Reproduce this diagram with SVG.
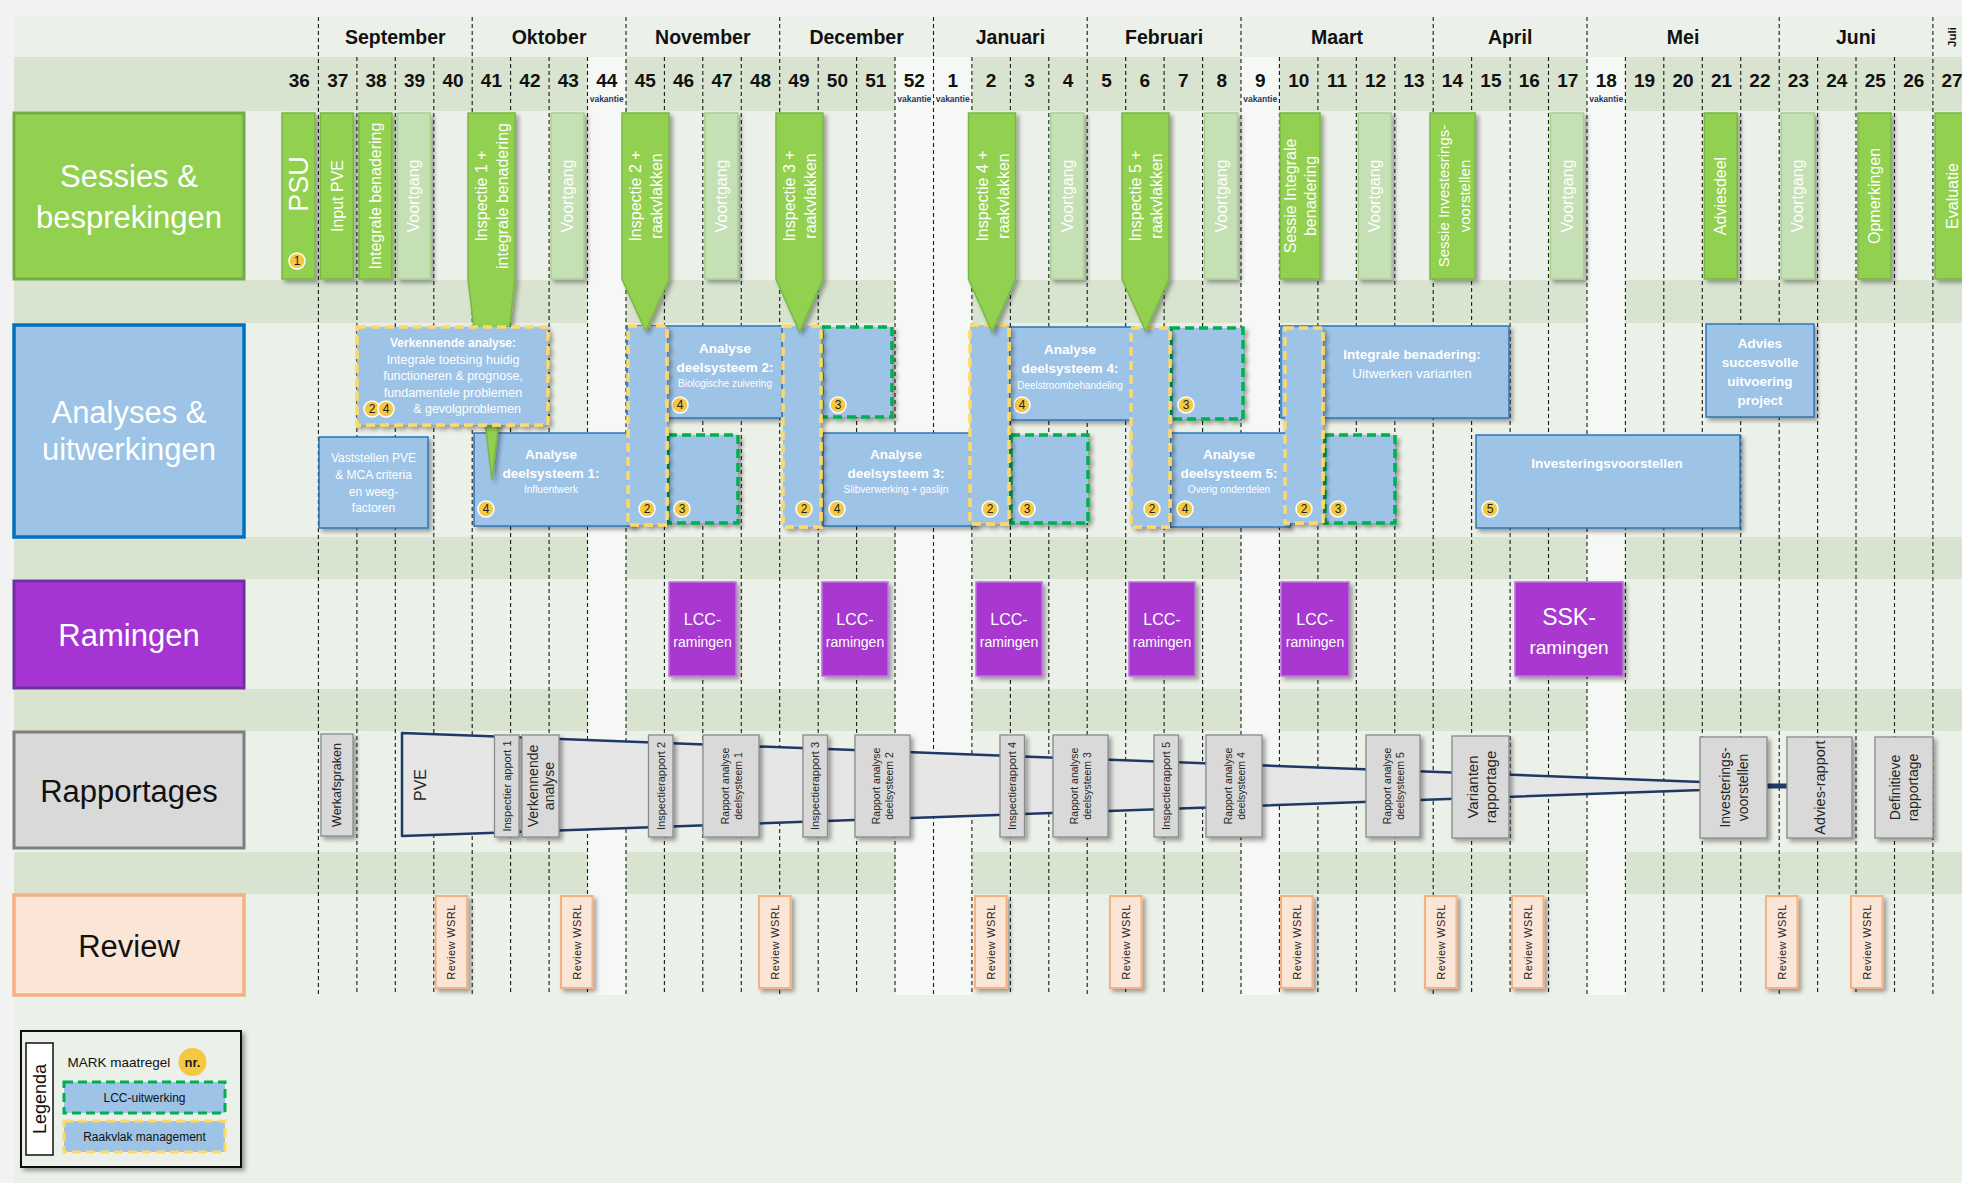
<svg xmlns="http://www.w3.org/2000/svg" width="1962" height="1183" viewBox="0 0 1962 1183">
<style>
text{font-family:"Liberation Sans",Arial,sans-serif}
.band{fill:#d8e4cf}.vak{fill:#f6f8f5}
.wl{stroke:#1a1a1a;stroke-width:1.1;stroke-dasharray:4 3;fill:none}
.mo{font-size:19.5px;font-weight:bold;fill:#111;text-anchor:middle}
.wk{font-size:19px;font-weight:bold;fill:#111;text-anchor:middle}
.vk{font-size:8.5px;font-weight:bold;fill:#1f3864;text-anchor:middle}
.hdr{font-size:31px;text-anchor:middle}
.shd{filter:url(#sh)}
.sd{fill:#92d050;stroke:#79b744;stroke-width:1.5}
.sl{fill:#c5e0b4;stroke:#a9d18e;stroke-width:1.5}
.st{fill:#fff;font-size:16px;text-anchor:middle;dominant-baseline:central}
.ab{fill:#9dc3e6;stroke:#2e75b6;stroke-width:1.5}
.rv{fill:#9dc3e6;stroke:#ffd966;stroke-width:3.5;stroke-dasharray:9 5}
.lcc{fill:#9dc3e6;stroke:#00b050;stroke-width:3.5;stroke-dasharray:9 5}
.ah{fill:#fff;font-size:13.5px;font-weight:bold;text-anchor:middle;dominant-baseline:central}
.as{fill:#fff;font-size:10px;text-anchor:middle;dominant-baseline:central}
.ar{fill:#fff;font-size:12.5px;text-anchor:middle;dominant-baseline:central}
.bd circle{fill:#f5c842;stroke:#fff;stroke-width:1.5}
.bd text{font-size:12px;fill:#222;text-anchor:middle;dominant-baseline:central}
.ram{fill:#a838d0;stroke:#bd72dc;stroke-width:1.5}
.rt{fill:#fff;font-size:16px;text-anchor:middle;dominant-baseline:central}
.rt2{fill:#fff;font-size:14px;text-anchor:middle;dominant-baseline:central}
.rep{fill:#d9d9d9;stroke:#8a8a8a;stroke-width:1.3}
.rpt{fill:#262626;text-anchor:middle;dominant-baseline:central}
.rev{fill:#fbe5d6;stroke:#f4b183;stroke-width:2}
.rvt{fill:#262626;font-size:11px;letter-spacing:0.4px;text-anchor:middle;dominant-baseline:central}
</style>
<defs>
<filter id="sh" x="-30%" y="-30%" width="170%" height="170%"><feDropShadow dx="3" dy="3" stdDeviation="2" flood-color="#000" flood-opacity="0.35"/></filter>
</defs>

<g id="background">
<rect width="1962" height="1183" fill="#f2f2f2"/>
<rect x="14" y="17" width="1948" height="1166" fill="#ebf0e8"/>
<rect class="band" x="14" y="57" width="1948" height="54"/>
<rect class="band" x="14" y="280" width="1948" height="43"/>
<rect class="band" x="14" y="537" width="1948" height="42"/>
<rect class="band" x="14" y="689" width="1948" height="42"/>
<rect class="band" x="14" y="852" width="1948" height="42"/>
<rect class="vak" x="587.5" y="57" width="38.5" height="938"/>
<rect class="vak" x="895" y="57" width="76.9" height="938"/>
<rect class="vak" x="1241" y="57" width="38.4" height="938"/>
<rect class="vak" x="1587" y="57" width="38.4" height="938"/>
<path class="wl" d="M356.9 57V995M395.3 57V995M433.8 57V995M510.6 57V995M549.1 57V995M587.5 57V995M664.4 57V995M702.8 57V995M741.3 57V995M818.2 57V995M856.6 57V995M895 57V995M971.9 57V995M1010.4 57V995M1048.8 57V995M1125.7 57V995M1164.1 57V995M1202.6 57V995M1279.4 57V995M1317.9 57V995M1356.3 57V995M1394.8 57V995M1471.6 57V995M1510.1 57V995M1548.5 57V995M1625.4 57V995M1663.8 57V995M1702.3 57V995M1740.7 57V995M1817.6 57V995M1856 57V995M1894.5 57V995"/>
<path class="wl" d="M318.4 17V995M472.2 17V995M626 17V995M779.7 17V995M933.5 17V995M1087.2 17V995M1241 17V995M1433.2 17V995M1587 17V995M1779.2 17V995M1932.9 17V995"/>
</g>

<g id="months">
<text class="mo" x="395.3" y="44">September</text>
<text class="mo" x="549.1" y="44">Oktober</text>
<text class="mo" x="702.8" y="44">November</text>
<text class="mo" x="856.6" y="44">December</text>
<text class="mo" x="1010.4" y="44">Januari</text>
<text class="mo" x="1164.1" y="44">Februari</text>
<text class="mo" x="1337.1" y="44">Maart</text>
<text class="mo" x="1510.1" y="44">April</text>
<text class="mo" x="1683.1" y="44">Mei</text>
<text class="mo" x="1856" y="44">Juni</text>
<text transform="translate(1952,37) rotate(-90)" font-size="11.5" font-weight="bold" fill="#111" text-anchor="middle" dominant-baseline="central">Juli</text>
</g>

<g id="weeks">
<text class="wk" x="299.2" y="87">36</text><text class="wk" x="337.7" y="87">37</text><text class="wk" x="376.1" y="87">38</text><text class="wk" x="414.5" y="87">39</text><text class="wk" x="453" y="87">40</text><text class="wk" x="491.4" y="87">41</text><text class="wk" x="529.9" y="87">42</text><text class="wk" x="568.3" y="87">43</text><text class="wk" x="606.7" y="87">44</text><text class="wk" x="645.2" y="87">45</text><text class="wk" x="683.6" y="87">46</text><text class="wk" x="722.1" y="87">47</text><text class="wk" x="760.5" y="87">48</text><text class="wk" x="798.9" y="87">49</text><text class="wk" x="837.4" y="87">50</text><text class="wk" x="875.8" y="87">51</text><text class="wk" x="914.3" y="87">52</text><text class="wk" x="952.7" y="87">1</text><text class="wk" x="991.1" y="87">2</text><text class="wk" x="1029.6" y="87">3</text><text class="wk" x="1068" y="87">4</text><text class="wk" x="1106.5" y="87">5</text><text class="wk" x="1144.9" y="87">6</text><text class="wk" x="1183.3" y="87">7</text><text class="wk" x="1221.8" y="87">8</text><text class="wk" x="1260.2" y="87">9</text><text class="wk" x="1298.7" y="87">10</text><text class="wk" x="1337.1" y="87">11</text><text class="wk" x="1375.5" y="87">12</text><text class="wk" x="1414" y="87">13</text><text class="wk" x="1452.4" y="87">14</text><text class="wk" x="1490.9" y="87">15</text><text class="wk" x="1529.3" y="87">16</text><text class="wk" x="1567.7" y="87">17</text><text class="wk" x="1606.2" y="87">18</text><text class="wk" x="1644.6" y="87">19</text><text class="wk" x="1683.1" y="87">20</text><text class="wk" x="1721.5" y="87">21</text><text class="wk" x="1759.9" y="87">22</text><text class="wk" x="1798.4" y="87">23</text><text class="wk" x="1836.8" y="87">24</text><text class="wk" x="1875.3" y="87">25</text><text class="wk" x="1913.7" y="87">26</text><text class="wk" x="1952.1" y="87">27</text>
<text class="vk" x="606.7" y="102">vakantie</text>
<text class="vk" x="914.3" y="102">vakantie</text>
<text class="vk" x="952.7" y="102">vakantie</text>
<text class="vk" x="1260.2" y="102">vakantie</text>
<text class="vk" x="1606.2" y="102">vakantie</text>
</g>

<g id="lane-headers">
<g id="hdr-sessies"><rect x="14" y="113" width="230" height="166" fill="#92d050" stroke="#70ad47" stroke-width="3"/><text class="hdr" x="129" y="187" fill="#fff">Sessies &amp;</text><text class="hdr" x="129" y="228" fill="#fff">besprekingen</text></g>
<g id="hdr-analyses"><rect x="14" y="325" width="230" height="212" fill="#9dc3e6" stroke="#0070c0" stroke-width="3.5"/><text class="hdr" x="129" y="423" fill="#fff">Analyses &amp;</text><text class="hdr" x="129" y="460" fill="#fff">uitwerkingen</text></g>
<g id="hdr-ramingen"><rect x="14" y="581" width="230" height="107" fill="#a435d2" stroke="#7030a0" stroke-width="3"/><text class="hdr" x="129" y="646" fill="#fff">Ramingen</text></g>
<g id="hdr-rapportages"><rect x="14" y="732" width="230" height="116" fill="#d9d9d9" stroke="#7f7f7f" stroke-width="3"/><text class="hdr" x="129" y="802" fill="#111">Rapportages</text></g>
<g id="hdr-review"><rect x="14" y="895" width="230" height="100" fill="#fbe5d6" stroke="#f4b183" stroke-width="3.5"/><text class="hdr" x="129" y="957" fill="#111">Review</text></g>
</g>

<g id="analyses">
<g id="a-vaststellen"><rect class="ab shd" x="319" y="437" width="109" height="91"/><text class="ar" x="373.5" y="458" style="font-size:12px">Vaststellen PVE</text><text class="ar" x="373.5" y="475" style="font-size:12px">&amp; MCA criteria</text><text class="ar" x="373.5" y="492" style="font-size:12px">en weeg-</text><text class="ar" x="373.5" y="508" style="font-size:12px">factoren</text></g>
<g id="a-ds1"><rect class="ab shd" x="474" y="433" width="160" height="93"/><text class="ah" x="551" y="454">Analyse</text><text class="ah" x="551" y="473">deelsysteem 1:</text><text class="as" x="551" y="489">Influentwerk</text><g class="bd"><circle cx="486" cy="509" r="8"/><text x="486" y="509">4</text></g></g>
<g id="a-ds2"><rect class="ab shd" x="627" y="326" width="155" height="92"/><text class="ah" x="725" y="348">Analyse</text><text class="ah" x="725" y="367">deelsysteem 2:</text><text class="as" x="725" y="383">Biologische zuivering</text><g class="bd"><circle cx="680" cy="405" r="8"/><text x="680" y="405">4</text></g></g>
<g id="a-ds3"><rect class="ab shd" x="823" y="433" width="152" height="93"/><text class="ah" x="896" y="454">Analyse</text><text class="ah" x="896" y="473">deelsysteem 3:</text><text class="as" x="896" y="489">Slibverwerking + gaslijn</text><g class="bd"><circle cx="837" cy="509" r="8"/><text x="837" y="509">4</text></g></g>
<g id="a-ds4"><rect class="ab shd" x="1009" y="327" width="125" height="93"/><text class="ah" x="1070" y="349">Analyse</text><text class="ah" x="1070" y="368">deelsysteem 4:</text><text class="as" x="1070" y="385">Deelstroombehandeling</text><g class="bd"><circle cx="1022" cy="405" r="8"/><text x="1022" y="405">4</text></g></g>
<g id="a-ds5"><rect class="ab shd" x="1170" y="433" width="120" height="94"/><text class="ah" x="1229" y="454">Analyse</text><text class="ah" x="1229" y="473">deelsysteem 5:</text><text class="as" x="1229" y="489">Overig onderdelen</text><g class="bd"><circle cx="1185" cy="509" r="8"/><text x="1185" y="509">4</text></g></g>
<g id="a-integraal"><rect class="ab shd" x="1281" y="326" width="228" height="92"/><text class="ah" x="1412" y="354">Integrale benadering:</text><text class="ar" x="1412" y="373" style="font-size:13.5px">Uitwerken varianten</text></g>
<g id="a-investering"><rect class="ab shd" x="1476" y="435" width="264" height="93"/><text class="ah" x="1607" y="463">Investeringsvoorstellen</text><g class="bd"><circle cx="1490" cy="509" r="8"/><text x="1490" y="509">5</text></g></g>
<g id="a-advies"><rect class="ab shd" x="1706" y="324" width="108" height="93"/><text class="ah" x="1760" y="343">Advies</text><text class="ah" x="1760" y="362">succesvolle</text><text class="ah" x="1760" y="381">uitvoering</text><text class="ah" x="1760" y="400">project</text></g>
<g id="lcc1"><rect class="lcc shd" x="668" y="435" width="70" height="88"/><g class="bd"><circle cx="682" cy="509" r="8"/><text x="682" y="509">3</text></g></g>
<g id="lcc2"><rect class="lcc shd" x="822" y="327" width="70" height="90"/><g class="bd"><circle cx="838" cy="405" r="8"/><text x="838" y="405">3</text></g></g>
<g id="lcc3"><rect class="lcc shd" x="1011" y="435" width="77" height="88"/><g class="bd"><circle cx="1027" cy="509" r="8"/><text x="1027" y="509">3</text></g></g>
<g id="lcc4"><rect class="lcc shd" x="1171" y="328" width="72" height="91"/><g class="bd"><circle cx="1186" cy="405" r="8"/><text x="1186" y="405">3</text></g></g>
<g id="lcc5"><rect class="lcc shd" x="1325" y="435" width="70" height="88"/><g class="bd"><circle cx="1338" cy="509" r="8"/><text x="1338" y="509">3</text></g></g>
<g id="rv1"><rect class="rv shd" x="628" y="326" width="39" height="199"/><g class="bd"><circle cx="647" cy="509" r="8"/><text x="647" y="509">2</text></g></g>
<g id="rv2"><rect class="rv shd" x="783" y="326" width="38" height="201"/><g class="bd"><circle cx="804" cy="509" r="8"/><text x="804" y="509">2</text></g></g>
<g id="rv3"><rect class="rv shd" x="970" y="325" width="39" height="199"/><g class="bd"><circle cx="990" cy="509" r="8"/><text x="990" y="509">2</text></g></g>
<g id="rv4"><rect class="rv shd" x="1131" y="328" width="39" height="199"/><g class="bd"><circle cx="1152" cy="509" r="8"/><text x="1152" y="509">2</text></g></g>
<g id="rv5"><rect class="rv shd" x="1285" y="328" width="38" height="195"/><g class="bd"><circle cx="1304" cy="509" r="8"/><text x="1304" y="509">2</text></g></g>
</g>

<g id="sessies">
<g id="s-psu"><rect class="sd shd" x="282" y="113" width="33" height="166"/><text transform="translate(299,184) rotate(-90)" class="st" style="font-size:27px">PSU</text><g class="bd"><circle cx="297" cy="261" r="8"/><text x="297" y="261">1</text></g></g>
<g id="s-inputpve"><rect class="sd shd" x="320.4" y="113" width="33" height="166"/><text transform="translate(337,196) rotate(-90)" class="st">Input PVE</text></g>
<g id="s-integraal1"><rect class="sd shd" x="358.9" y="113" width="33" height="166"/><text transform="translate(375.4,196) rotate(-90)" class="st">Integrale benadering</text></g>
<g id="s-voortgang39"><rect class="sl shd" x="397.3" y="113" width="33" height="166"/><text transform="translate(413.8,196) rotate(-90)" class="st">Voortgang</text></g>
<g id="s-inspectie1"><path class="sd shd" d="M468 113H515V279L492 480L468 279Z"/><text transform="translate(491.5,196) rotate(-90)" class="st"><tspan x="0" y="-10.5">Inspectie 1 +</tspan><tspan x="0" y="10.5">integrale benadering</tspan></text></g>
<g id="s-voortgang43"><rect class="sl shd" x="551" y="113" width="33" height="166"/><text transform="translate(567.5,196) rotate(-90)" class="st">Voortgang</text></g>
<g id="s-inspectie2"><path class="sd shd" d="M622 113H669V279L645.5 331L622 279Z"/><text transform="translate(645.5,196) rotate(-90)" class="st"><tspan x="0" y="-10.5">Inspectie 2 +</tspan><tspan x="0" y="10.5">raakvlakken</tspan></text></g>
<g id="s-voortgang47"><rect class="sl shd" x="704.8" y="113" width="33" height="166"/><text transform="translate(721.3,196) rotate(-90)" class="st">Voortgang</text></g>
<g id="s-inspectie3"><path class="sd shd" d="M776 113H823V279L799.5 332L776 279Z"/><text transform="translate(799.5,196) rotate(-90)" class="st"><tspan x="0" y="-10.5">Inspectie 3 +</tspan><tspan x="0" y="10.5">raakvlakken</tspan></text></g>
<g id="s-inspectie4"><path class="sd shd" d="M968.5 113H1015.5V279L992 332L968.5 279Z"/><text transform="translate(992,196) rotate(-90)" class="st"><tspan x="0" y="-10.5">Inspectie 4 +</tspan><tspan x="0" y="10.5">raakvlakken</tspan></text></g>
<g id="s-voortgang4"><rect class="sl shd" x="1050.8" y="113" width="33" height="166"/><text transform="translate(1067.3,196) rotate(-90)" class="st">Voortgang</text></g>
<g id="s-inspectie5"><path class="sd shd" d="M1122 113H1169V279L1145.5 331L1122 279Z"/><text transform="translate(1145.5,196) rotate(-90)" class="st"><tspan x="0" y="-10.5">Inspectie 5 +</tspan><tspan x="0" y="10.5">raakvlakken</tspan></text></g>
<g id="s-voortgang8"><rect class="sl shd" x="1204.5" y="113" width="33" height="166"/><text transform="translate(1221,196) rotate(-90)" class="st">Voortgang</text></g>
<g id="s-sessie-integraal"><rect class="sd shd" x="1280" y="113" width="40" height="166"/><text transform="translate(1300,196) rotate(-90)" class="st"><tspan x="0" y="-10">Sessie Integrale</tspan><tspan x="0" y="10">benadering</tspan></text></g>
<g id="s-voortgang12"><rect class="sl shd" x="1358.3" y="113" width="33" height="166"/><text transform="translate(1374.8,196) rotate(-90)" class="st">Voortgang</text></g>
<g id="s-sessie-invest"><rect class="sd shd" x="1430" y="113" width="45" height="166"/><text transform="translate(1453,196) rotate(-90)" class="st" style="font-size:15px"><tspan x="0" y="-10.5">Sessie Investesrings-</tspan><tspan x="0" y="10.5">voorstellen</tspan></text></g>
<g id="s-voortgang17"><rect class="sl shd" x="1550.5" y="113" width="33" height="166"/><text transform="translate(1567,196) rotate(-90)" class="st">Voortgang</text></g>
<g id="s-adviesdeel"><rect class="sd shd" x="1704.3" y="113" width="33" height="166"/><text transform="translate(1720.8,196) rotate(-90)" class="st">Adviesdeel</text></g>
<g id="s-voortgang23"><rect class="sl shd" x="1781.2" y="113" width="33" height="166"/><text transform="translate(1797.7,196) rotate(-90)" class="st">Voortgang</text></g>
<g id="s-opmerkingen"><rect class="sd shd" x="1858" y="113" width="33" height="166"/><text transform="translate(1874.5,196) rotate(-90)" class="st">Opmerkingen</text></g>
<g id="s-evaluatie"><rect class="sd shd" x="1935" y="113" width="33" height="166"/><text transform="translate(1952,196) rotate(-90)" class="st">Evaluatie</text></g>
</g>

<g id="a-verkennend">
<rect class="rv shd" x="357" y="327" width="191" height="98"/>
<text class="ah" x="453" y="343" style="font-size:12px">Verkennende analyse:</text>
<text class="ar" x="453" y="360">Integrale toetsing huidig</text>
<text class="ar" x="453" y="376">functioneren &amp; prognose,</text>
<text class="ar" x="453" y="393">fundamentele problemen</text>
<text class="ar" x="467" y="409">&amp; gevolgproblemen</text>
<g class="bd"><circle cx="372" cy="409" r="8"/><text x="372" y="409">2</text><circle cx="386" cy="409" r="8"/><text x="386" y="409">4</text></g>
</g>

<g id="ramingen">
<g id="r-lcc1"><rect class="ram shd" x="669" y="582" width="67" height="94"/><text class="rt" x="702.5" y="619">LCC-</text><text class="rt2" x="702.5" y="642">ramingen</text></g>
<g id="r-lcc2"><rect class="ram shd" x="822" y="582" width="66" height="94"/><text class="rt" x="855" y="619">LCC-</text><text class="rt2" x="855" y="642">ramingen</text></g>
<g id="r-lcc3"><rect class="ram shd" x="976" y="582" width="66" height="94"/><text class="rt" x="1009" y="619">LCC-</text><text class="rt2" x="1009" y="642">ramingen</text></g>
<g id="r-lcc4"><rect class="ram shd" x="1129" y="582" width="66" height="94"/><text class="rt" x="1162" y="619">LCC-</text><text class="rt2" x="1162" y="642">ramingen</text></g>
<g id="r-lcc5"><rect class="ram shd" x="1281" y="582" width="68" height="94"/><text class="rt" x="1315" y="619">LCC-</text><text class="rt2" x="1315" y="642">ramingen</text></g>
<g id="r-ssk"><rect class="ram shd" x="1515" y="582" width="108" height="94"/><text class="rt" x="1569" y="617" style="font-size:23px">SSK-</text><text class="rt" x="1569" y="647" style="font-size:19px">ramingen</text></g>
</g>

<g id="connectors">
<polygon points="402,733 1702,782 1702,790 402,836" fill="#e6e6e6" stroke="#1f3864" stroke-width="2.5" stroke-linejoin="round"/>
<rect x="1766" y="783.5" width="22" height="5" fill="#1f3864"/>
<text transform="translate(420,785) rotate(-90)" class="rpt" font-size="16">PVE</text>
</g>

<g id="rapportages">
<g id="p-werk"><rect class="rep shd" x="321" y="734" width="32" height="102"/><text transform="translate(337,785) rotate(-90)" class="rpt" font-size="12.5">Werkafspraken</text></g>
<g id="p-insp1"><rect class="rep shd" x="494.5" y="735" width="24.5" height="102"/><text transform="translate(506.7,786) rotate(-90)" class="rpt" font-size="11">Inspectier apport 1</text></g>
<g id="p-verk"><rect class="rep shd" x="522" y="735" width="37" height="102"/><text transform="translate(540.5,786) rotate(-90)" class="rpt" font-size="14"><tspan x="0" y="-8">Verkennende</tspan><tspan x="0" y="8">analyse</tspan></text></g>
<g id="p-insp2"><rect class="rep shd" x="648.5" y="735" width="24.5" height="102"/><text transform="translate(660.7,786) rotate(-90)" class="rpt" font-size="11">Inspectierapport 2</text></g>
<g id="p-ra1"><rect class="rep shd" x="703" y="735" width="56" height="102"/><text transform="translate(731,786) rotate(-90)" class="rpt" font-size="10.5"><tspan x="0" y="-6.5">Rapport analyse</tspan><tspan x="0" y="6.5">deelsysteem 1</tspan></text></g>
<g id="p-insp3"><rect class="rep shd" x="803" y="735" width="24.5" height="102"/><text transform="translate(815.2,786) rotate(-90)" class="rpt" font-size="11">Inspectierapport 3</text></g>
<g id="p-ra2"><rect class="rep shd" x="855" y="735" width="55" height="102"/><text transform="translate(882.5,786) rotate(-90)" class="rpt" font-size="10.5"><tspan x="0" y="-6.5">Rapport analyse</tspan><tspan x="0" y="6.5">deelsysteem 2</tspan></text></g>
<g id="p-insp4"><rect class="rep shd" x="1000" y="735" width="24.5" height="102"/><text transform="translate(1012.2,786) rotate(-90)" class="rpt" font-size="11">Inspectierapport 4</text></g>
<g id="p-ra3"><rect class="rep shd" x="1053" y="735" width="55" height="102"/><text transform="translate(1080.5,786) rotate(-90)" class="rpt" font-size="10.5"><tspan x="0" y="-6.5">Rapport analyse</tspan><tspan x="0" y="6.5">deelsysteem 3</tspan></text></g>
<g id="p-insp5"><rect class="rep shd" x="1154" y="735" width="24.5" height="102"/><text transform="translate(1166.2,786) rotate(-90)" class="rpt" font-size="11">Inspectierapport 5</text></g>
<g id="p-ra4"><rect class="rep shd" x="1206" y="735" width="56" height="102"/><text transform="translate(1234,786) rotate(-90)" class="rpt" font-size="10.5"><tspan x="0" y="-6.5">Rapport analyse</tspan><tspan x="0" y="6.5">deelsysteem 4</tspan></text></g>
<g id="p-ra5"><rect class="rep shd" x="1366" y="735" width="54" height="102"/><text transform="translate(1393,786) rotate(-90)" class="rpt" font-size="10.5"><tspan x="0" y="-6.5">Rapport analyse</tspan><tspan x="0" y="6.5">deelsysteem 5</tspan></text></g>
<g id="p-varianten"><rect class="rep shd" x="1452" y="736" width="57" height="102"/><text transform="translate(1480.5,787) rotate(-90)" class="rpt" font-size="15"><tspan x="0" y="-9">Varianten</tspan><tspan x="0" y="9">rapportage</tspan></text></g>
<g id="p-invest"><rect class="rep shd" x="1700" y="737" width="67" height="101"/><text transform="translate(1733.5,787.5) rotate(-90)" class="rpt" font-size="14"><tspan x="0" y="-9">Investerings-</tspan><tspan x="0" y="9">voorstellen</tspan></text></g>
<g id="p-advies"><rect class="rep shd" x="1787" y="737" width="65" height="101"/><text transform="translate(1819.5,787.5) rotate(-90)" class="rpt" font-size="14.5">Advies-rapport</text></g>
<g id="p-definitief"><rect class="rep shd" x="1875" y="737" width="58" height="101"/><text transform="translate(1904,787.5) rotate(-90)" class="rpt" font-size="14"><tspan x="0" y="-9">Definitieve</tspan><tspan x="0" y="9">rapportage</tspan></text></g>
</g>

<g id="reviews">
<g id="rw1"><rect class="rev shd" x="435.6" y="896" width="31.5" height="92"/><text transform="translate(451.4,942) rotate(-90)" class="rvt">Review WSRL</text></g>
<g id="rw2"><rect class="rev shd" x="561" y="896" width="31.5" height="92"/><text transform="translate(576.8,942) rotate(-90)" class="rvt">Review WSRL</text></g>
<g id="rw3"><rect class="rev shd" x="759" y="896" width="31.5" height="92"/><text transform="translate(774.8,942) rotate(-90)" class="rvt">Review WSRL</text></g>
<g id="rw4"><rect class="rev shd" x="975" y="896" width="31.5" height="92"/><text transform="translate(990.8,942) rotate(-90)" class="rvt">Review WSRL</text></g>
<g id="rw5"><rect class="rev shd" x="1110" y="896" width="31.5" height="92"/><text transform="translate(1125.8,942) rotate(-90)" class="rvt">Review WSRL</text></g>
<g id="rw6"><rect class="rev shd" x="1281" y="896" width="31.5" height="92"/><text transform="translate(1296.8,942) rotate(-90)" class="rvt">Review WSRL</text></g>
<g id="rw7"><rect class="rev shd" x="1425" y="896" width="31.5" height="92"/><text transform="translate(1440.8,942) rotate(-90)" class="rvt">Review WSRL</text></g>
<g id="rw8"><rect class="rev shd" x="1512" y="896" width="31.5" height="92"/><text transform="translate(1527.8,942) rotate(-90)" class="rvt">Review WSRL</text></g>
<g id="rw9"><rect class="rev shd" x="1766" y="896" width="31.5" height="92"/><text transform="translate(1781.8,942) rotate(-90)" class="rvt">Review WSRL</text></g>
<g id="rw10"><rect class="rev shd" x="1851" y="896" width="31.5" height="92"/><text transform="translate(1866.8,942) rotate(-90)" class="rvt">Review WSRL</text></g>
</g>

<g id="legend">
<rect class="shd" x="21" y="1031" width="220" height="136" fill="#ebf0e8" stroke="#111" stroke-width="2"/>
<rect x="26" y="1043" width="27" height="112" fill="#fff" stroke="#111" stroke-width="1.5"/>
<text transform="translate(40,1099) rotate(-90)" font-size="18" fill="#111" text-anchor="middle" dominant-baseline="central">Legenda</text>
<text x="67.5" y="1067" font-size="13.5" fill="#111">MARK maatregel</text>
<circle cx="192.5" cy="1062" r="14" fill="#f5c842"/>
<text x="192.5" y="1062" font-size="13" font-weight="bold" fill="#222" text-anchor="middle" dominant-baseline="central">nr.</text>
<rect class="lcc" x="64" y="1082" width="161" height="31" style="stroke-width:3px"/>
<text x="144.5" y="1097.5" font-size="12" fill="#111" text-anchor="middle" dominant-baseline="central">LCC-uitwerking</text>
<rect class="rv" x="64" y="1121" width="161" height="31" style="stroke-width:3px"/>
<text x="144.5" y="1136.5" font-size="12" fill="#111" text-anchor="middle" dominant-baseline="central">Raakvlak management</text>
</g>
</svg>
